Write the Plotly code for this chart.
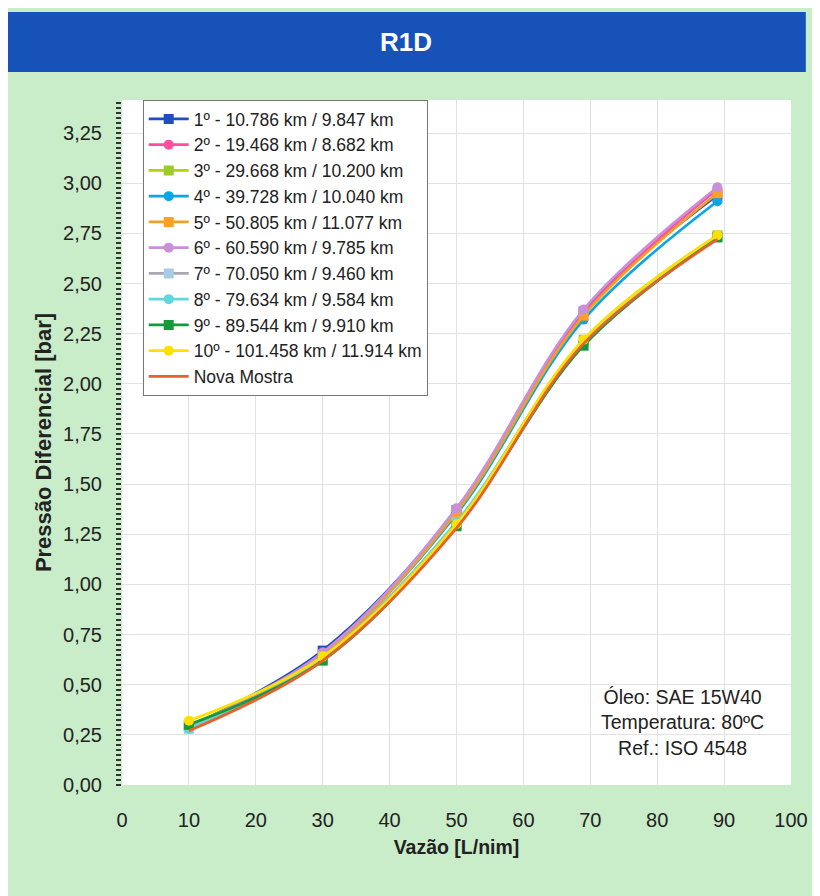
import plotly.graph_objects as go

vazao = [10, 30, 50, 69, 89]

series_names = [
    "1º - 10.786 km / 9.847 km",
    "2º - 19.468 km / 8.682 km",
    "3º - 29.668 km / 10.200 km",
    "4º - 39.728 km / 10.040 km",
    "5º - 50.805 km / 11.077 km",
    "6º - 60.590 km / 9.785 km",
    "7º - 70.050 km / 9.460 km",
    "8º - 79.634 km / 9.584 km",
    "9º - 89.544 km / 9.910 km",
    "10º - 101.458 km / 11.914 km",
    "Nova Mostra",
]

s1 = [0.29, 0.67, 1.37, 2.36, 2.94]
s2 = [0.29, 0.66, 1.37, 2.35, 2.97]
s3 = [0.30, 0.63, 1.30, 2.22, 2.74]
s4 = [0.28, 0.65, 1.35, 2.32, 2.91]
s5 = [0.29, 0.65, 1.36, 2.34, 2.95]
s6 = [0.29, 0.66, 1.38, 2.37, 2.98]
s7 = [0.28, 0.64, 1.31, 2.21, 2.73]
s8 = [0.28, 0.63, 1.31, 2.21, 2.73]
s9 = [0.30, 0.62, 1.29, 2.19, 2.73]
s10 = [0.32, 0.64, 1.30, 2.22, 2.74]
nova = [0.27, 0.62, 1.28, 2.20, 2.72]

series_values = [s1, s2, s3, s4, s5, s6, s7, s8, s9, s10, nova]

line_colors = ["#1f4fbf", "#ff4f9f", "#b5d400", "#0aa6e6", "#f2a020",
               "#c890d8", "#a8a8b0", "#5fd8dc", "#159a3a", "#ffe000", "#e8602a"]
marker_colors = ["#1f4fbf", "#ff4f9f", "#9ccc2a", "#0aa6e6", "#ffa020",
                 "#c890d8", "#a8cce8", "#5fd8dc", "#159a3a", "#ffe000", "#e8602a"]
symbols = ["square", "circle", "square", "circle", "square",
           "circle", "square", "circle", "square", "circle", None]

y_ticks = [0, 0.25, 0.5, 0.75, 1.0, 1.25, 1.5, 1.75, 2.0, 2.25, 2.5, 2.75, 3.0, 3.25]
x_ticks = [0, 10, 20, 30, 40, 50, 60, 70, 80, 90, 100]

fig = go.Figure()
for name, vals, lc, mc, sym in zip(series_names, series_values, line_colors, marker_colors, symbols):
    if sym is None:
        fig.add_trace(go.Scatter(x=vazao, y=vals, name=name, mode="lines",
                                 line=dict(color=lc, width=2.7, shape="spline", smoothing=1.0)))
    else:
        fig.add_trace(go.Scatter(x=vazao, y=vals, name=name, mode="lines+markers",
                                 line=dict(color=lc, width=2.7, shape="spline", smoothing=1.0),
                                 marker=dict(symbol=sym, size=10, color=mc)))

# page body has an 8px margin: work in screen pixels, shift by OFF
OFF = 8
W, H = 820 - OFF, 896 - OFF
L, R, T, B = 122 - OFF, 800 - OFF, 100 - OFF, 785 - OFF   # plot area in figure px


def px(x):
    return (x - OFF - L) / (R - L)


def py(y):
    return (B - (y - OFF)) / (B - T)


fig.update_layout(
    width=W, height=H,
    margin=dict(l=L, r=W - R, t=T, b=H - B, pad=0),
    paper_bgcolor="#c9ecc9",
    plot_bgcolor="white",
    separators=",.",
    font=dict(family="Liberation Sans, Arial, sans-serif", color="#222"),
    showlegend=True,
    legend=dict(x=px(143), y=py(100), xanchor="left", yanchor="top",
                bgcolor="white", bordercolor="#777", borderwidth=1,
                font=dict(size=17.5, color="#222"), itemwidth=40,
                tracegroupgap=0),
    xaxis=dict(range=[0, 100], tickvals=x_ticks, showgrid=True, gridcolor="#e2e2e2",
               gridwidth=1, zeroline=False, showline=False, ticks="",
               tickfont=dict(size=20), ticklabelstandoff=21,
               title=dict(text="<b>Vazão [L/nim]</b>", font=dict(size=19.5), standoff=10)),
    yaxis=dict(range=[0, (B - T) / 200.6], tickvals=y_ticks, tickformat=".2f",
               showgrid=True, gridcolor="#e2e2e2", gridwidth=1, zeroline=False,
               showline=False, ticks="outside", ticklen=5, tickwidth=2, tickcolor="#333",
               minor=dict(ticks="outside", dtick=0.025, ticklen=5, tickwidth=2,
                          tickcolor="#333", showgrid=False),
               tickfont=dict(size=20), ticklabelstandoff=10,
               title=dict(text="<b>Pressão Diferencial [bar]</b>", font=dict(size=22), standoff=5)),
    shapes=[dict(type="rect", xref="paper", yref="paper",
                 x0=px(5), x1=px(815), y0=py(72), y1=py(12),
                 fillcolor="#1752b8", line=dict(width=0), layer="below")],
    annotations=[
        dict(text="<b>R1D</b>", xref="paper", yref="paper", x=px(410), y=py(42),
             xanchor="center", yanchor="middle",
             showarrow=False, font=dict(size=26, color="white")),
        dict(text="Óleo: SAE 15W40<br>Temperatura: 80ºC<br>Ref.: ISO 4548",
             xref="paper", yref="paper", x=px(690), y=py(722), showarrow=False,
             xanchor="center", yanchor="middle",
             align="center", font=dict(size=19.5, color="#222")),
    ],
)

fig.write_html("out.html")
